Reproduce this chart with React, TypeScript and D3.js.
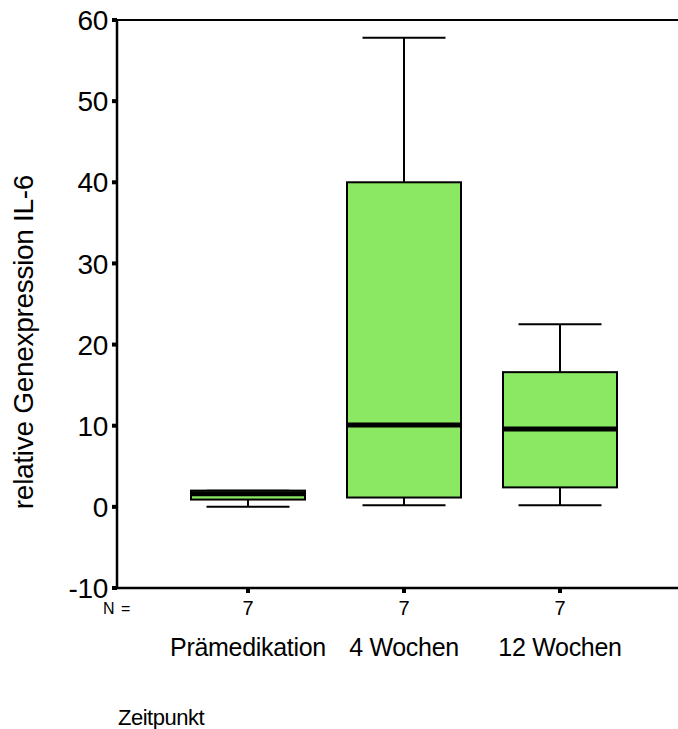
import React, { useEffect, useRef } from "react";
import * as d3 from "d3";

// group labels and N counts
const groups = ["Prämedikation", "4 Wochen", "12 Wochen"];
const counts = [7, 7, 7];

// box plot stats
const whiskerLow = [0, 0.2, 0.2];
const q1 = [0.9, 1.15, 2.4];
const median = [1.6, 10.1, 9.6];
const q3 = [2.0, 40, 16.6];
const whiskerHigh = [2.0, 57.8, 22.5];

const yTicks = [-10, 0, 10, 20, 30, 40, 50, 60];

const FONT = "'Liberation Sans', Arial, sans-serif";

export default function App() {
	const ref = useRef<SVGSVGElement | null>(null);

	useEffect(() => {
		const svg = d3.select(ref.current);
		svg.selectAll("*").remove();

		const left = 117;
		const right = 678;
		const top = 20;
		const bottom = 588;

		const y = d3.scaleLinear().domain([-10, 60]).range([bottom, top]);
		const x = d3.scalePoint<string>().domain(groups).range([248, 560]);

		const boxW = 114;
		const capW = 83;

		// frame: top line, bottom axis and left axis
		svg.append("line")
			.attr("x1", left).attr("x2", right)
			.attr("y1", top).attr("y2", top)
			.attr("stroke", "#000").attr("stroke-width", 2);

		svg.append("line")
			.attr("x1", left).attr("x2", right)
			.attr("y1", bottom).attr("y2", bottom)
			.attr("stroke", "#000").attr("stroke-width", 2.5);

		svg.append("line")
			.attr("x1", left).attr("x2", left)
			.attr("y1", top - 1).attr("y2", bottom + 1)
			.attr("stroke", "#000").attr("stroke-width", 2.5);

		// y ticks - little square marks
		const yg = svg.append("g");
		yg.selectAll("rect")
			.data(yTicks)
			.enter()
			.append("rect")
			.attr("x", left - 5)
			.attr("y", (d) => y(d) - 2)
			.attr("width", 5)
			.attr("height", 4)
			.attr("fill", "#000");

		yg.selectAll("text")
			.data(yTicks)
			.enter()
			.append("text")
			.attr("x", left - 9)
			.attr("y", (d) => y(d))
			.attr("dy", "0.36em")
			.attr("text-anchor", "end")
			.attr("font-family", FONT)
			.attr("font-size", "28px")
			.attr("letter-spacing", "-0.3px")
			.text((d) => d);

		// x ticks
		svg.append("g")
			.selectAll("rect")
			.data(groups)
			.enter()
			.append("rect")
			.attr("x", (d) => (x(d) as number) - 2)
			.attr("y", bottom)
			.attr("width", 4)
			.attr("height", 5)
			.attr("fill", "#000");

		// N = row
		svg.append("text")
			.attr("x", 103)
			.attr("y", 614)
			.attr("font-family", FONT)
			.attr("font-size", "16px")
			.attr("letter-spacing", "1px")
			.text("N =");

		svg.append("g")
			.selectAll("text")
			.data(groups)
			.enter()
			.append("text")
			.attr("x", (d) => x(d) as number)
			.attr("y", 615)
			.attr("text-anchor", "middle")
			.attr("font-family", FONT)
			.attr("font-size", "20px")
			.text((d, i) => counts[i]);

		svg.append("g")
			.selectAll("text")
			.data(groups)
			.enter()
			.append("text")
			.attr("x", (d) => x(d) as number)
			.attr("y", 656)
			.attr("text-anchor", "middle")
			.attr("font-family", FONT)
			.attr("font-size", "25px")
			.attr("letter-spacing", "-0.3px")
			.text((d) => d);

		// boxes
		const boxes = svg.append("g")
			.selectAll("g")
			.data(groups)
			.enter()
			.append("g");

		boxes.append("line")
			.attr("x1", (d) => x(d) as number)
			.attr("x2", (d) => x(d) as number)
			.attr("y1", (d, i) => y(whiskerHigh[i]))
			.attr("y2", (d, i) => y(whiskerLow[i]))
			.attr("stroke", "#000").attr("stroke-width", 2);

		boxes.append("line")
			.attr("x1", (d) => (x(d) as number) - capW / 2)
			.attr("x2", (d) => (x(d) as number) + capW / 2)
			.attr("y1", (d, i) => y(whiskerHigh[i]))
			.attr("y2", (d, i) => y(whiskerHigh[i]))
			.attr("stroke", "#000").attr("stroke-width", 2);

		boxes.append("line")
			.attr("x1", (d) => (x(d) as number) - capW / 2)
			.attr("x2", (d) => (x(d) as number) + capW / 2)
			.attr("y1", (d, i) => y(whiskerLow[i]))
			.attr("y2", (d, i) => y(whiskerLow[i]))
			.attr("stroke", "#000").attr("stroke-width", 2);

		boxes.append("rect")
			.attr("x", (d) => (x(d) as number) - boxW / 2)
			.attr("y", (d, i) => y(q3[i]))
			.attr("width", boxW)
			.attr("height", (d, i) => y(q1[i]) - y(q3[i]))
			.attr("fill", "#8ae862")
			.attr("stroke", "#000")
			.attr("stroke-width", 2);

		boxes.append("line")
			.attr("x1", (d) => (x(d) as number) - boxW / 2)
			.attr("x2", (d) => (x(d) as number) + boxW / 2)
			.attr("y1", (d, i) => y(median[i]))
			.attr("y2", (d, i) => y(median[i]))
			.attr("stroke", "#000").attr("stroke-width", 5);

		// axis titles
		svg.append("text")
			.attr("transform", "translate(33," + 342 + ") rotate(-90)")
			.attr("text-anchor", "middle")
			.attr("font-family", FONT)
			.attr("font-size", "28px")
			.attr("letter-spacing", "-0.3px")
			.text("relative Genexpression IL-6");

		svg.append("text")
			.attr("x", 118)
			.attr("y", 725)
			.attr("font-family", FONT)
			.attr("font-size", "22px")
			.attr("letter-spacing", "-0.5px")
			.text("Zeitpunkt");
	}, []);

	return (
		<svg
			ref={ref}
			width={678}
			height={729}
			style={{ position: "absolute", left: 0, top: 0, background: "#fff" }}
		/>
	);
}
